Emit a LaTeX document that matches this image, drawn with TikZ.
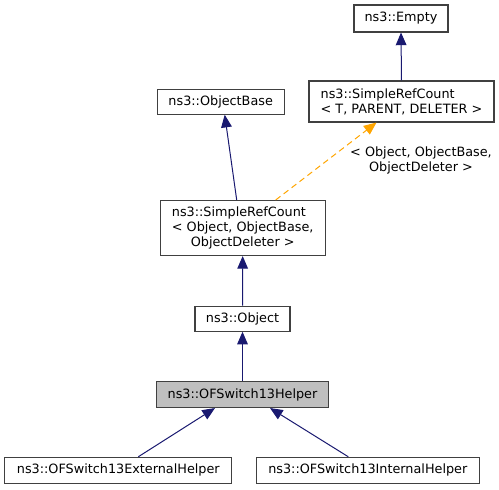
\documentclass[tikz,border=0pt]{standalone}
\usepackage{fontspec}
\setmainfont{DejaVu Sans}
\usepackage{calc}
\usetikzlibrary{arrows.meta,calc}
\definecolor{edgeblue}{HTML}{191970}
\definecolor{edgeorange}{HTML}{FFA500}
\definecolor{boxline}{HTML}{404040}
\definecolor{hlfill}{HTML}{BFBFBF}
\tikzset{
  cls/.style={draw=boxline, line width=0.8pt, inner sep=0pt, align=center,
    font=\fontsize{9.6}{11.3}\selectfont, fill=white},
  inh/.style={draw=edgeblue, line width=0.75pt, -{Triangle[length=9.5pt,width=8pt]}},
  tmpl/.style={draw=edgeorange, line width=0.75pt, dash pattern=on 4.5pt off 3pt,
    -{Triangle[length=9.5pt,width=8pt,fill=edgeorange]}},
}
\begin{document}
\begin{tikzpicture}[x=0.75pt,y=-0.75pt]
\useasboundingbox (0,0) rectangle (499,489);
\node[cls, minimum width={94*0.75pt}, minimum height={27*0.75pt}] (empty) at (401,18.5) {ns3::Empty};
\node[cls, minimum width={185*0.75pt}, minimum height={41*0.75pt}] (srcT) at (401.5,101.5)
  {\makebox[\widthof{< T, PARENT, DELETER >}][l]{ns3::SimpleRefCount}\\< T, PARENT, DELETER >};
\node[cls, minimum width={127*0.75pt}, minimum height={25*0.75pt}] (ob) at (220.7,101.7) {ns3::ObjectBase};
\node[cls, minimum width={165*0.75pt}, minimum height={55*0.75pt}] (srcO) at (242.7,228)
  {\makebox[\widthof{< Object, ObjectBase,}][l]{ns3::SimpleRefCount}\\< Object, ObjectBase,\\ObjectDeleter >};
\node[cls, minimum width={95*0.75pt}, minimum height={25*0.75pt}] (obj) at (242.5,318.7) {ns3::Object};
\node[cls, fill=hlfill, minimum width={172*0.75pt}, minimum height={26*0.75pt}] (helper) at (242.5,394.5) {ns3::OFSwitch13Helper};
\node[cls, minimum width={227*0.75pt}, minimum height={26*0.75pt}] (ext) at (118.3,470.3) {ns3::OFSwitch13ExternalHelper};
\node[cls, minimum width={223*0.75pt}, minimum height={26*0.75pt}] (int) at (367.8,470.3) {ns3::OFSwitch13InternalHelper};
\node[align=center, inner sep=0pt, font=\fontsize{9.6}{11.3}\selectfont] (lbl) at (421,160) {< Object, ObjectBase,\\ObjectDeleter >};

\draw[inh] (srcT.north) -- (empty.south);
\draw[inh] ($(srcO.north)+(-6,0)$) -- ($(ob.south)+(4,0)$);
\draw[tmpl] ($(srcO.north)+(33,0)$) -- ($(srcT.south)+(-25,0)$);
\draw[inh] (obj.north) -- (srcO.south);
\draw[inh] (helper.north) -- (obj.south);
\draw[inh] ($(ext.north)+(20,0)$) -- ($(helper.south)+(-27.5,0)$);
\draw[inh] ($(int.north)+(-19.5,0)$) -- ($(helper.south)+(27.5,0)$);
\end{tikzpicture}
\end{document}
